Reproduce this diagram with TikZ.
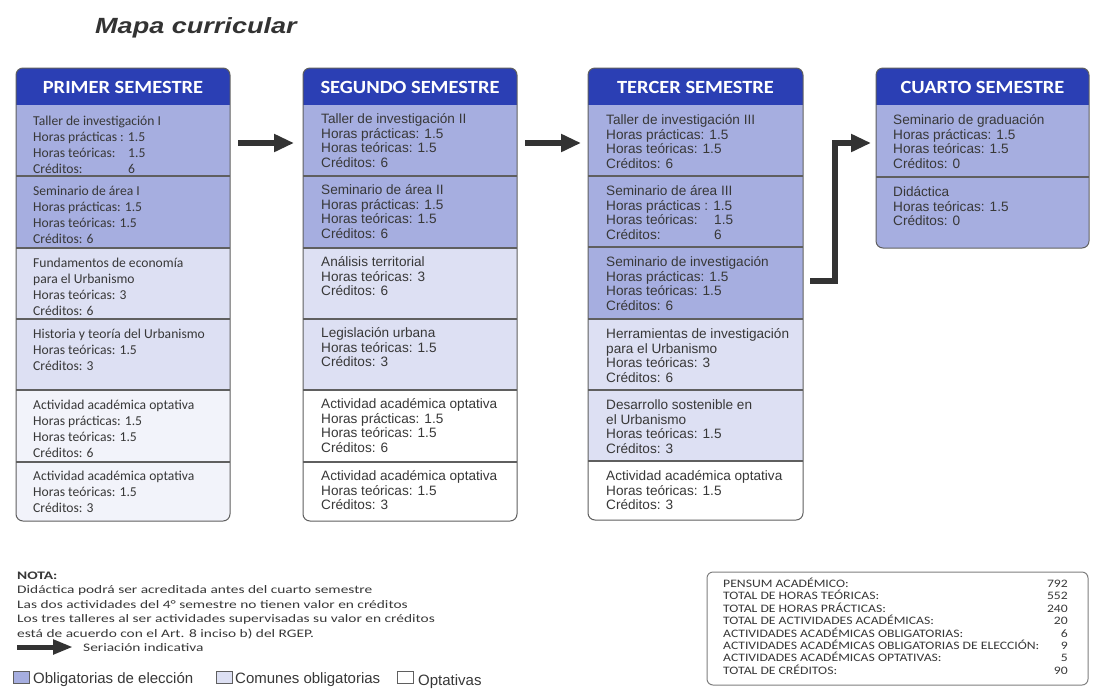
\documentclass[tikz,border=0pt]{standalone}
\usepackage{fontspec}
\setmainfont{Liberation Sans}
\newfontfamily\carl{Carlito}
\newfontfamily\carlH[FakeStretch=1.1]{Carlito}
\newfontfamily\carlN[FakeStretch=1.34]{Carlito}
\newfontfamily\carlT[FakeStretch=1.2]{Carlito}
\newfontfamily\titlef[FakeStretch=1.23]{Liberation Sans}
\usetikzlibrary{arrows.meta}
\definecolor{hdr}{HTML}{2B3FB4}
\definecolor{cdark}{HTML}{A6AEE0}
\definecolor{clight}{HTML}{DDE0F3}
\definecolor{copt}{HTML}{F2F3FA}
\definecolor{cborder}{HTML}{5F5F5F}
\definecolor{ctext}{HTML}{383838}
\definecolor{carrow}{HTML}{333333}
\newcommand\stt{\rule{0pt}{12.5pt}}
\newcommand\stn{\rule{0pt}{10pt}}
\begin{document}
\begin{tikzpicture}[x=1pt,y=-1pt,
  frame/.style={draw=cborder, line width=1pt, rounded corners=7pt},
  sepline/.style={draw=cborder, line width=1.2pt},
  hdrtxt/.style={text=white, font=\carlH\bfseries\fontsize{18.6}{20}\selectfont, inner sep=0pt},
  cellA/.style={anchor=north west, inner sep=0pt, align=left, text=ctext, font=\carl\fontsize{13.6}{16}\selectfont},
  cellB/.style={anchor=north west, inner sep=0pt, align=left, text=ctext, font=\fontsize{13.6}{14.5}\selectfont},
  arr/.style={draw=carrow, line width=6pt, -{Triangle[length=20pt,width=17pt]}},
  legarr/.style={draw=carrow, line width=5pt, -{Triangle[length=20pt,width=14pt]}},
  legsq/.style={draw=cborder, line width=0.8pt, minimum width=16pt, minimum height=12pt, inner sep=0pt},
  legtxt/.style={anchor=base west, inner sep=0pt, text=ctext, font=\fontsize{15}{17}\selectfont},
]
\useasboundingbox (0,0) rectangle (1100,697);
\fill[white] (0,0) rectangle (1100,697);

% title
\node[anchor=base west, inner sep=0pt, text=carrow, font=\titlef\bfseries\itshape\fontsize{22}{24}\selectfont] (title) at (95,33) {Mapa curricular};

% ---------- column 1 ----------
\begin{scope}
\clip[rounded corners=7pt] (16,68) rectangle (230,521);
\fill[hdr] (16,68) rectangle (230,105);
\fill[cdark] (16,105) rectangle (230,248);
\fill[clight] (16,248) rectangle (230,390);
\fill[copt] (16,390) rectangle (230,521);
\end{scope}
\foreach \yy in {176,248,319,390,462} \draw[sepline] (16,\yy) -- (230,\yy);
\draw[frame] (16,68) rectangle (230,521);
\node[hdrtxt] (h1) at (123,87) {PRIMER SEMESTRE};
\node[cellA] (c1r1) at (33,112.5) {\stt Taller de investigación I\\Horas prácticas : 1.5\\\makebox[95pt][l]{Horas teóricas:}1.5\\\makebox[95pt][l]{Créditos:}6};
\node[cellA] (c1r2) at (33,182.5) {\stt Seminario de área I\\Horas prácticas: 1.5\\Horas teóricas: 1.5\\Créditos: 6};
\node[cellA] (c1r3) at (33,254.5) {\stt Fundamentos de economía\\para el Urbanismo\\Horas teóricas: 3\\Créditos: 6};
\node[cellA] (c1r4) at (33,325.5) {\stt Historia y teoría del Urbanismo\\Horas teóricas: 1.5\\Créditos: 3};
\node[cellA] (c1r5) at (33,396.5) {\stt Actividad académica optativa\\Horas prácticas: 1.5\\Horas teóricas: 1.5\\Créditos: 6};
\node[cellA] (c1r6) at (33,468) {\stt Actividad académica optativa\\Horas teóricas: 1.5\\Créditos: 3};

% ---------- column 2 ----------
\begin{scope}
\clip[rounded corners=7pt] (303,68) rectangle (517,521);
\fill[hdr] (303,68) rectangle (517,105);
\fill[cdark] (303,105) rectangle (517,248);
\fill[clight] (303,248) rectangle (517,390);
\fill[white] (303,390) rectangle (517,521);
\end{scope}
\foreach \yy in {176,248,319,390,462} \draw[sepline] (303,\yy) -- (517,\yy);
\draw[frame] (303,68) rectangle (517,521);
\node[hdrtxt] (h2) at (410,87) {SEGUNDO SEMESTRE};
\node[cellB] (c2r1) at (321,111) {\stt Taller de investigación II\\Horas prácticas: 1.5\\Horas teóricas: 1.5\\Créditos: 6};
\node[cellB] (c2r2) at (321,182) {\stt Seminario de área II\\Horas prácticas: 1.5\\Horas teóricas: 1.5\\Créditos: 6};
\node[cellB] (c2r3) at (321,254) {\stt Análisis territorial\\Horas teóricas: 3\\Créditos: 6};
\node[cellB] (c2r4) at (321,325) {\stt Legislación urbana\\Horas teóricas: 1.5\\Créditos: 3};
\node[cellB] (c2r5) at (321,396) {\stt Actividad académica optativa\\Horas prácticas: 1.5\\Horas teóricas: 1.5\\Créditos: 6};
\node[cellB] (c2r6) at (321,468) {\stt Actividad académica optativa\\Horas teóricas: 1.5\\Créditos: 3};

% ---------- column 3 ----------
\begin{scope}
\clip[rounded corners=7pt] (588,68) rectangle (803,520);
\fill[hdr] (588,68) rectangle (803,105);
\fill[cdark] (588,105) rectangle (803,319);
\fill[clight] (588,319) rectangle (803,461);
\fill[white] (588,461) rectangle (803,520);
\end{scope}
\foreach \yy in {176,247,319,390,461} \draw[sepline] (588,\yy) -- (803,\yy);
\draw[frame] (588,68) rectangle (803,520);
\node[hdrtxt] (h3) at (695.5,87) {TERCER SEMESTRE};
\node[cellB] (c3r1) at (606,112) {\stt Taller de investigación III\\Horas prácticas: 1.5\\Horas teóricas: 1.5\\Créditos: 6};
\node[cellB] (c3r2) at (606,183) {\stt Seminario de área III\\Horas prácticas : 1.5\\\makebox[108pt][l]{Horas teóricas:}1.5\\\makebox[108pt][l]{Créditos:}6};
\node[cellB] (c3r3) at (606,254) {\stt Seminario de investigación\\Horas prácticas: 1.5\\Horas teóricas: 1.5\\Créditos: 6};
\node[cellB] (c3r4) at (606,326) {\stt Herramientas de investigación\\para el Urbanismo\\Horas teóricas: 3\\Créditos: 6};
\node[cellB] (c3r5) at (606,397) {\stt Desarrollo sostenible en\\el Urbanismo\\Horas teóricas: 1.5\\Créditos: 3};
\node[cellB] (c3r6) at (606,468) {\stt Actividad académica optativa\\Horas teóricas: 1.5\\Créditos: 3};

% ---------- column 4 ----------
\begin{scope}
\clip[rounded corners=7pt] (876,68) rectangle (1089,248);
\fill[hdr] (876,68) rectangle (1089,105);
\fill[cdark] (876,105) rectangle (1089,248);
\end{scope}
\draw[sepline] (876,177) -- (1089,177);
\draw[frame] (876,68) rectangle (1089,248);
\node[hdrtxt] (h4) at (982.5,87) {CUARTO SEMESTRE};
\node[cellB] (c4r1) at (893,112) {\stt Seminario de graduación\\Horas prácticas: 1.5\\Horas teóricas: 1.5\\Créditos: 0};
\node[cellB] (c4r2) at (893,184) {\stt Didáctica\\Horas teóricas: 1.5\\Créditos: 0};

% ---------- arrows ----------
\coordinate (a1s) at (238,143);
\coordinate (a1e) at (294,143);
\coordinate (a2s) at (525,143);
\coordinate (a2e) at (581,143);
\coordinate (a3s) at (810,281);
\coordinate (a3m) at (835,143);
\coordinate (a3e) at (871,143);
\draw[arr] (a1s) -- (a1e);
\draw[arr] (a2s) -- (a2e);
\draw[arr] (a3s) -| (a3m) -- (a3e);

% ---------- notes ----------
\node[anchor=north west, inner sep=0pt, align=left, text=ctext, font=\carlN\fontsize{11.5}{14.5}\selectfont] (nota) at (17,569) {\stn\textbf{NOTA:}\\Didáctica podrá ser acreditada antes del cuarto semestre\\Las dos actividades del 4° semestre no tienen valor en créditos\\Los tres talleres al ser actividades supervisadas su valor en créditos\\está de acuerdo con el Art. 8 inciso b) del RGEP.};
\coordinate (lgs) at (17,647);
\coordinate (lge) at (73,647);
\draw[legarr] (lgs) -- (lge);
\node[anchor=base west, inner sep=0pt, text=ctext, font=\carlN\fontsize{11.5}{14}\selectfont] (seri) at (83,651) {Seriación indicativa};

% ---------- legend ----------
\node[legsq, fill=cdark] (lg1) at (21,677.5) {};
\node[legtxt] (lt1) at (33,683) {Obligatorias de elección};
\node[legsq, fill=clight] (lg2) at (224.5,677.5) {};
\node[legtxt] (lt2) at (235,683) {Comunes obligatorias};
\node[legsq, fill=white] (lg3) at (405,677) {};
\node[legtxt] (lt3) at (418,685) {Optativas};

% ---------- totals ----------
\draw[draw=cborder!80, line width=1pt, rounded corners=6pt] (707,572) rectangle (1088,685);
\node[anchor=north west, inner sep=0pt, align=left, text=ctext, font=\carlT\fontsize{11.4}{12.45}\selectfont] (totl) at (723,577) {\stn PENSUM ACADÉMICO:\\TOTAL DE HORAS TEÓRICAS:\\TOTAL DE HORAS PRÁCTICAS:\\TOTAL DE ACTIVIDADES ACADÉMICAS:\\ACTIVIDADES ACADÉMICAS OBLIGATORIAS:\\ACTIVIDADES ACADÉMICAS OBLIGATORIAS DE ELECCIÓN:\\ACTIVIDADES ACADÉMICAS OPTATIVAS:\\TOTAL DE CRÉDITOS:};
\node[anchor=north east, inner sep=0pt, align=right, text=ctext, font=\carlT\fontsize{11.4}{12.45}\selectfont] (totr) at (1068,577) {\stn 792\\552\\240\\20\\6\\9\\5\\90};
\end{tikzpicture}
\end{document}
